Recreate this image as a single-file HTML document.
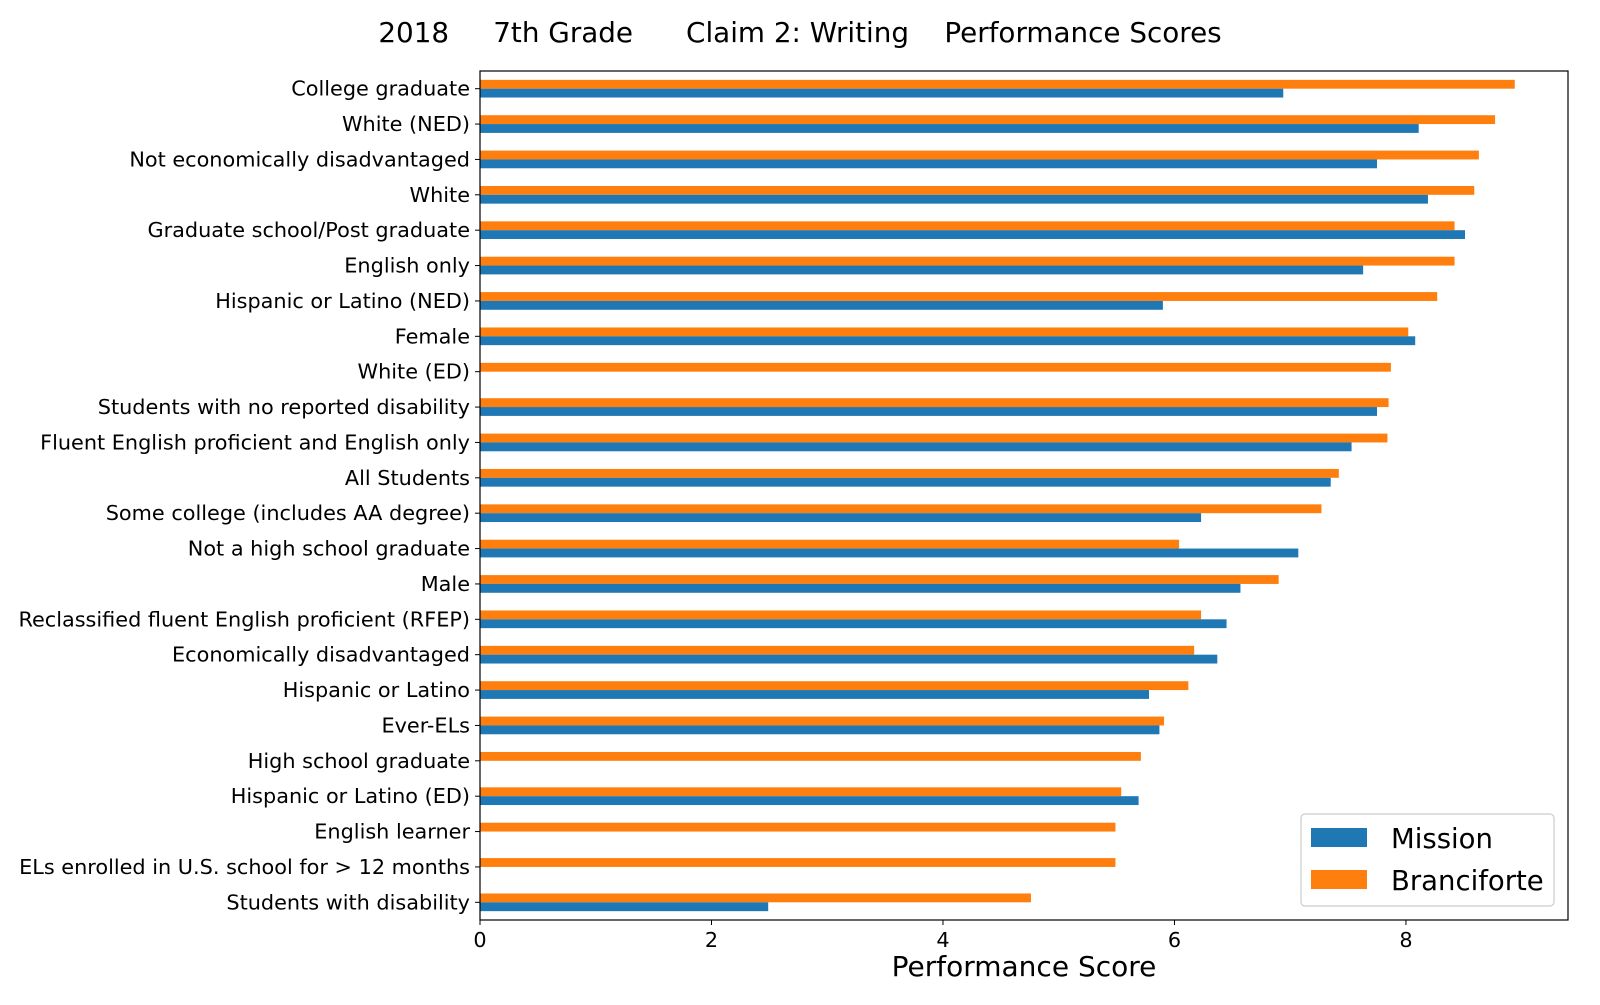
<!DOCTYPE html>
<html><head><meta charset="utf-8"><style>body{margin:0;background:#fff}svg{font-family:"DejaVu Sans","Liberation Sans",sans-serif}</style></head>
<body>
<svg id="c" width="1600" height="1000"></svg>
<script>
const categories=["College graduate","White (NED)","Not economically disadvantaged","White","Graduate school/Post graduate","English only","Hispanic or Latino (NED)","Female","White (ED)","Students with no reported disability","Fluent English proficient and English only","All Students","Some college (includes AA degree)","Not a high school graduate","Male","Reclassified fluent English proficient (RFEP)","Economically disadvantaged","Hispanic or Latino","Ever-ELs","High school graduate","Hispanic or Latino (ED)","English learner","ELs enrolled in U.S. school for > 12 months","Students with disability"];
const missionValues=[6.94,8.11,7.75,8.19,8.51,7.63,5.90,8.08,null,7.75,7.53,7.35,6.23,7.07,6.57,6.45,6.37,5.78,5.87,null,5.69,null,null,2.49];
const branciforteValues=[8.94,8.77,8.63,8.59,8.42,8.42,8.27,8.02,7.87,7.85,7.84,7.42,7.27,6.04,6.90,6.23,6.17,6.12,5.91,5.71,5.54,5.49,5.49,4.76];
const xTicks=[0,2,4,6,8];
const L=480,R=1568,T=71,B=920,XMAX=9.4;
const svg=document.getElementById('c');const NS='http://www.w3.org/2000/svg';
function el(t,a,txt){const e=document.createElementNS(NS,t);for(const k in a)e.setAttribute(k,a[k]);if(txt!=null)e.textContent=txt;svg.appendChild(e);return e;}
const x=v=>L+v/XMAX*(R-L);
const step=(B-T)/categories.length;
const yc=i=>T+step*(i+0.5);
const bh=step*0.25;
categories.forEach((c,i)=>{
  const cy=yc(i);
  if(branciforteValues[i]!=null){const r=el('rect',{x:L,y:cy-bh,width:x(branciforteValues[i])-L,height:bh,fill:'#ff7f0e'});
    
    }
  if(missionValues[i]!=null){const r=el('rect',{x:L,y:cy,width:x(missionValues[i])-L,height:bh,fill:'#1f77b4'});
    
    }
  el('line',{x1:L-5,x2:L,y1:cy,y2:cy,stroke:'#000','stroke-width':1});
  const t=el('text',{x:L-10,y:cy+7,'text-anchor':'end','font-size':20.8,fill:'#000'},c);
  
  
});
xTicks.forEach(v=>{
  el('line',{x1:x(v),x2:x(v),y1:B,y2:B+5,stroke:'#000','stroke-width':1});
  const t=el('text',{x:x(v),y:B+27,'text-anchor':'middle','font-size':20.8},v);
  
  
});
const f=el('rect',{x:L,y:T,width:R-L,height:B-T,fill:'none',stroke:'#000','stroke-width':1.2});


const xt=el('text',{x:(L+R)/2,y:976,'text-anchor':'middle','font-size':28},'Performance Score');


const tt=el('text',{x:800,y:42,'text-anchor':'middle','font-size':27.8,'xml:space':'preserve'},'2018     7th Grade      Claim 2: Writing    Performance Scores');
tt.setAttribute('style','white-space:pre');


const lg=el('rect',{x:1301,y:814,width:253,height:92,rx:4,fill:'#fff',stroke:'#ccc','stroke-width':1.2});


el('rect',{x:1311,y:828,width:56,height:19,fill:'#1f77b4'});
el('rect',{x:1311,y:870,width:56,height:19,fill:'#ff7f0e'});
const l1=el('text',{x:1391,y:848,'font-size':27.5},'Mission');


const l2=el('text',{x:1391,y:890,'font-size':27.5},'Branciforte');


</script>
</body></html>
